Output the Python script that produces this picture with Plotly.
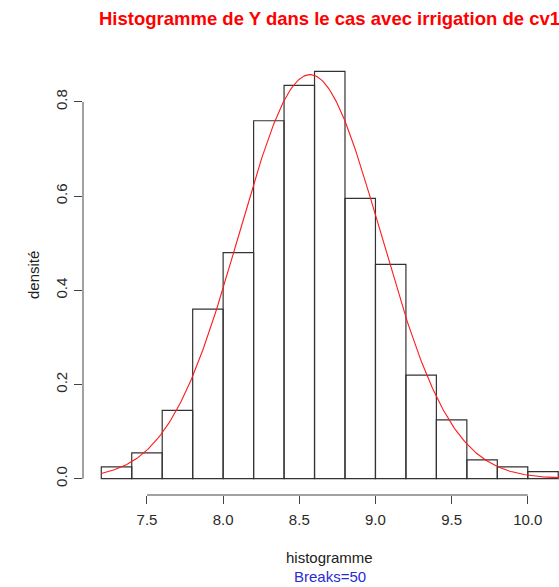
import numpy as np
import plotly.graph_objects as go

# Histogram of Y (irrigated, cv1): class breaks and densities
breaks = [7.2, 7.4, 7.6, 7.8, 8.0, 8.2, 8.4, 8.6, 8.8, 9.0, 9.2, 9.4, 9.6, 9.8, 10.0, 10.2]
density = [0.025, 0.055, 0.145, 0.360, 0.480, 0.760, 0.835, 0.865,
           0.595, 0.455, 0.220, 0.125, 0.040, 0.025, 0.015]

# Fitted normal curve parameters
mu = 8.57
sigma = 0.465

x_ticks = [7.5, 8.0, 8.5, 9.0, 9.5, 10.0]
y_ticks = [0.0, 0.2, 0.4, 0.6, 0.8]

title_text = "Histogramme de Y dans le cas avec irrigation de cv1"
x_label = "histogramme"
y_label = "densité"
sub_label = "Breaks=50"

centers = [(a + b) / 2 for a, b in zip(breaks[:-1], breaks[1:])]
widths = [b - a for a, b in zip(breaks[:-1], breaks[1:])]

# R-style axis limits: data range padded by 4 %
span_x = breaks[-1] - breaks[0]
xlo = breaks[0] - 0.04 * span_x
xhi_full = breaks[-1] + 0.04 * span_x
ytop = max(density)
ylo = -0.04 * ytop
yhi = ytop + 0.04 * ytop

xs = np.linspace(breaks[0], xhi_full, 400)
ys = np.exp(-0.5 * ((xs - mu) / sigma) ** 2) / (sigma * np.sqrt(2 * np.pi))

FONT = "Liberation Sans, Arial, Helvetica, sans-serif"
AX = "#444444"

fig = go.Figure()
fig.add_trace(go.Bar(
    x=centers, y=density, width=widths,
    marker=dict(color="rgba(255,255,255,0)", line=dict(color="#333333", width=1.2)),
    hoverinfo="x+y", showlegend=False,
))
fig.add_trace(go.Scatter(
    x=xs, y=ys, mode="lines",
    line=dict(color="#ff1a1a", width=1.1),
    hoverinfo="skip", showlegend=False,
))

fig.update_layout(
    width=559, height=587,
    margin=dict(l=83, r=0, t=55, b=92),
    plot_bgcolor="white", paper_bgcolor="white",
    font=dict(family=FONT, size=15, color="#222222"),
    xaxis=dict(
        range=[xlo, breaks[-1] + 0.005],
        tickmode="array", tickvals=x_ticks, ticktext=[f"{v:.1f}" for v in x_ticks],
        ticks="outside", ticklen=8, tickwidth=1, tickcolor=AX,
        ticklabelstandoff=3,
        showline=False, showgrid=False, zeroline=False,
        tickfont=dict(family=FONT, size=15, color="#2a2a2a"),
    ),
    yaxis=dict(
        range=[ylo, yhi],
        tickmode="array", tickvals=y_ticks, ticktext=[f"{v:.1f}" for v in y_ticks],
        ticks="outside", ticklen=8, tickwidth=1, tickcolor=AX,
        tickangle=-90,
        ticklabelstandoff=1,
        showline=False, showgrid=False, zeroline=False,
        tickfont=dict(family=FONT, size=15, color="#2a2a2a"),
    ),
    shapes=[
        dict(type="line", xref="paper", yref="y", x0=0, x1=0,
             y0=y_ticks[0], y1=y_ticks[-1], line=dict(color=AX, width=1)),
        dict(type="line", xref="x", yref="paper", x0=x_ticks[0], x1=x_ticks[-1],
             y0=0, y1=0, line=dict(color=AX, width=1)),
    ],
    annotations=[
        dict(text=f"<b>{title_text}</b>", xref="x", yref="paper",
             x=(xlo + xhi_full) / 2, y=1.084, xanchor="center", yanchor="middle",
             showarrow=False, font=dict(family=FONT, size=18.5, color="#ff0000")),
        dict(text=x_label, xref="x", yref="paper",
             x=(xlo + xhi_full) / 2, y=-0.141, xanchor="center", yanchor="middle",
             showarrow=False, font=dict(family=FONT, size=15, color="#222222")),
        dict(text=sub_label, xref="x", yref="paper",
             x=(xlo + xhi_full) / 2, y=-0.186, xanchor="center", yanchor="middle",
             showarrow=False, font=dict(family=FONT, size=15, color="#2a2ad8")),
        dict(text=y_label, xref="paper", yref="paper",
             x=-0.105, y=0.5, xanchor="center", yanchor="middle", textangle=-90,
             showarrow=False, font=dict(family=FONT, size=15, color="#222222")),
    ],
)

fig.write_html("out.html")
